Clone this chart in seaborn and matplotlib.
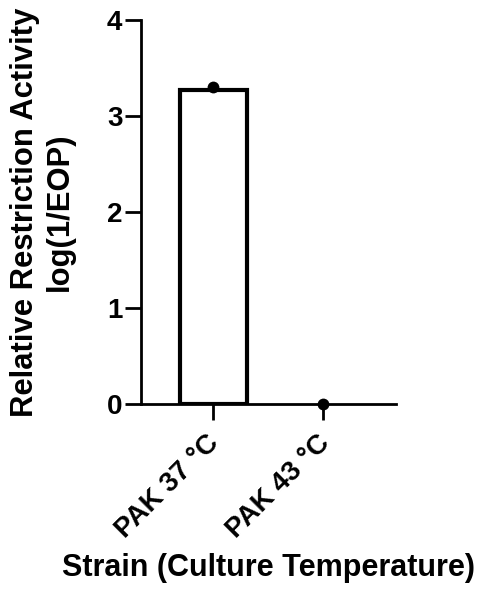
import matplotlib
matplotlib.use("Agg")
import matplotlib.pyplot as plt
import matplotlib.transforms as mtrans
import seaborn as sns
import pandas as pd

strains = ["PAK 37 °C", "PAK 43 °C"]
bar_means = [3.27, 0.0]
point_strains = ["PAK 37 °C", "PAK 43 °C"]
point_values = [3.30, 0.0]
y_ticks = [0, 1, 2, 3, 4]

sns.set_style("ticks")
plt.rcParams["font.family"] = ["Liberation Sans", "DejaVu Sans"]
plt.rcParams["font.weight"] = "bold"
plt.rcParams["text.color"] = "black"
plt.rcParams["axes.labelcolor"] = "black"
plt.rcParams["xtick.color"] = "black"
plt.rcParams["ytick.color"] = "black"

fig = plt.figure(figsize=(4.8, 5.96), dpi=100)
ax = fig.add_axes([0.294, 0.322, 0.531, 0.644])

bars = pd.DataFrame({"strain": strains, "value": bar_means})
pts = pd.DataFrame({"strain": point_strains, "value": point_values})

sns.barplot(data=bars, x="strain", y="value", order=strains, color="white",
            edgecolor="black", linewidth=3.0, width=0.61, errorbar=None, ax=ax)
for p in ax.patches:
    if p.get_height() == 0:
        p.set_visible(False)
sns.stripplot(data=pts, x="strain", y="value", order=strains, color="black",
              size=8.5, jitter=False, ax=ax, zorder=5, clip_on=False)

ax.set_xlim(-0.655, 1.66)
ax.set_ylim(0, 4)
for s in ["top", "right"]:
    ax.spines[s].set_visible(False)
for s in ["left", "bottom"]:
    ax.spines[s].set_linewidth(2.0)
    ax.spines[s].set_color("black")
ax.tick_params(axis="both", width=2.0, length=11.5, color="black",
               labelcolor="black", pad=2)
ax.tick_params(axis="x", pad=6)

ax.set_yticks(y_ticks)
ax.set_yticklabels([str(t) for t in y_ticks], fontsize=20, fontweight="bold",
                   color="black")
ax.set_xticks(range(len(strains)))
ax.set_xticklabels(strains, rotation=45, ha="right", rotation_mode="anchor",
                   fontsize=20, fontweight="bold", color="black")
offset = mtrans.ScaledTranslation(-7 / 100, -2 / 100, fig.dpi_scale_trans)
for lbl in ax.get_xticklabels():
    lbl.set_transform(lbl.get_transform() + offset)

ax.set_xlabel("Strain (Culture Temperature)", fontsize=22, fontweight="bold",
              labelpad=7, color="black")
ax.set_ylabel("Relative Restriction Activity\nlog(1/EOP)", fontsize=22.3,
              fontweight="bold", labelpad=23, linespacing=1.2, color="black")

fig.savefig("out.png", dpi=100)
